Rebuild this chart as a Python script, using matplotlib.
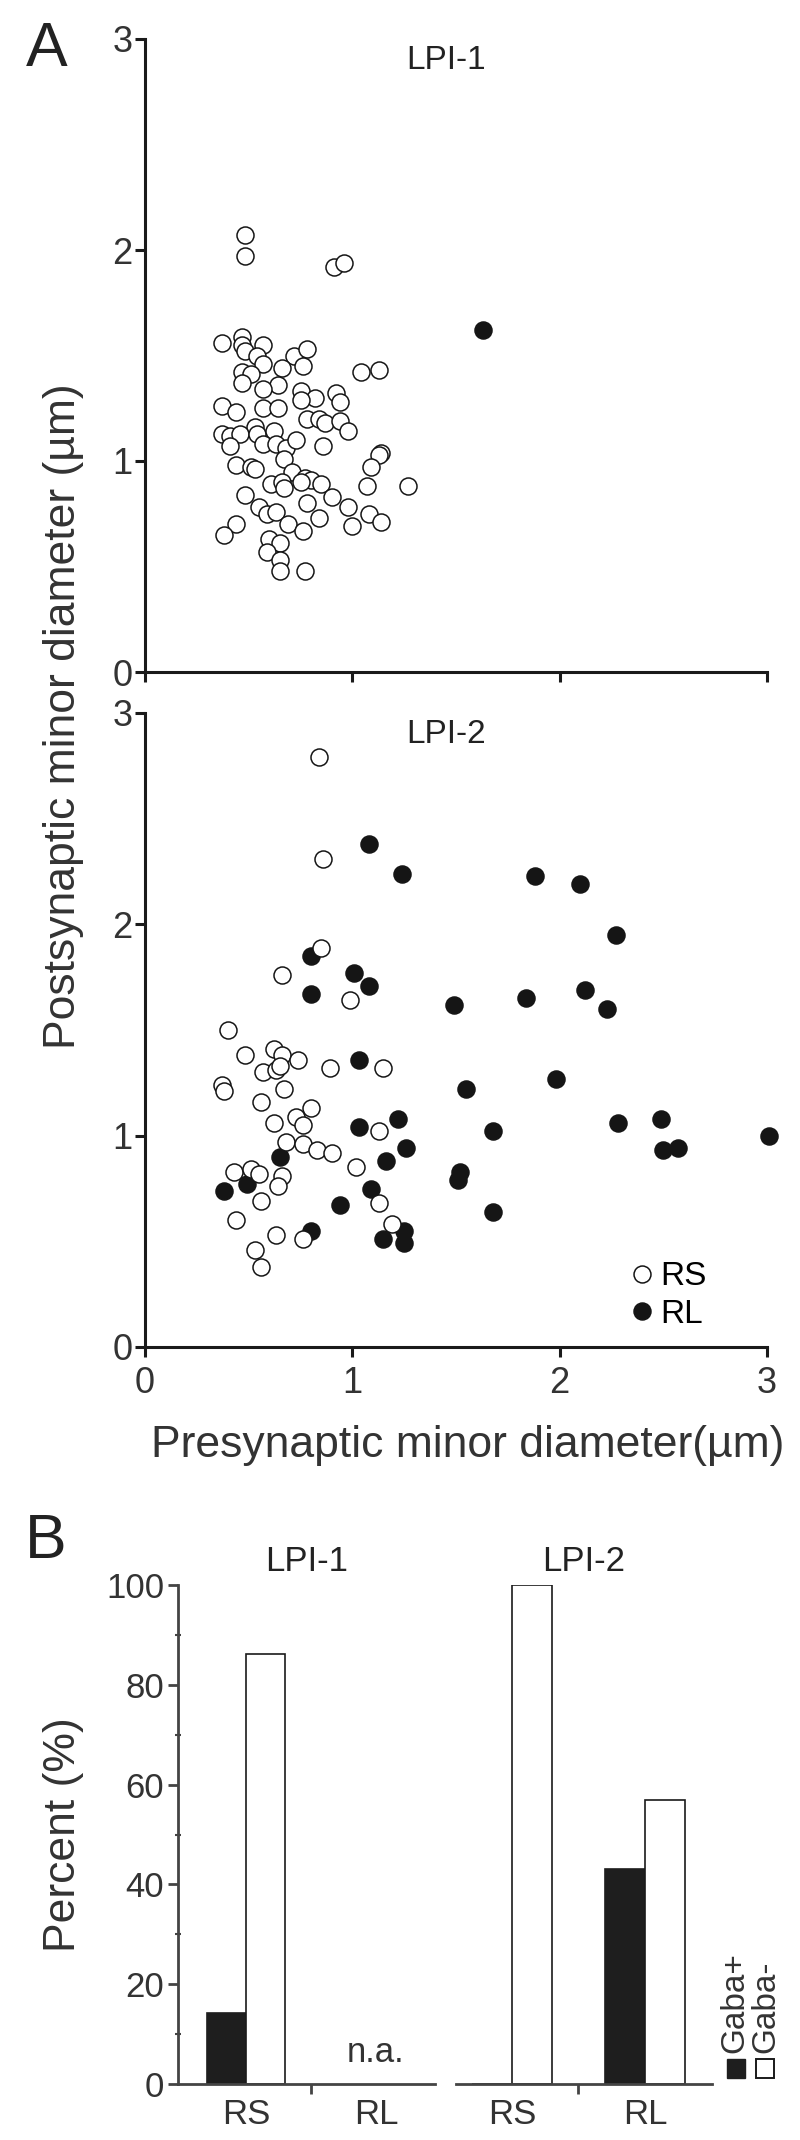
import matplotlib
matplotlib.use('Agg')
import matplotlib.pyplot as plt
import numpy as np
from matplotlib.lines import Line2D
from matplotlib.patches import Rectangle

plt.rcParams['font.family'] = ['Liberation Sans', 'DejaVu Sans']

# ---- data: panel A, LPI-1 ----
lpi1_rs_x = [0.48, 0.48, 0.91, 0.96, 0.37, 0.47, 0.47, 0.57, 0.48, 0.54, 0.72, 0.78, 0.76, 0.57,
             0.66, 1.04, 1.13, 0.47, 0.51, 0.47, 0.64, 0.57, 0.75, 0.92, 0.82, 0.75, 0.94, 0.37,
             0.44, 0.57, 0.64, 0.78, 0.84, 0.87, 0.94, 0.98, 0.53, 0.37, 0.41, 0.46, 0.41, 0.54,
             0.62, 0.57, 0.63, 0.68, 0.73, 0.86, 1.14, 1.13, 1.09, 0.67, 0.44, 0.51, 0.53, 0.71,
             0.77, 0.80, 0.85, 0.61, 0.66, 0.67, 0.75, 1.07, 1.27, 0.90, 0.48, 0.55, 0.78, 0.59,
             0.63, 0.98, 1.08, 1.14, 0.84, 1.00, 0.69, 0.76, 0.44, 0.38, 0.60, 0.65, 0.59, 0.65,
             0.65, 0.77]
lpi1_rs_y = [2.07, 1.97, 1.92, 1.94, 1.56, 1.59, 1.55, 1.55, 1.52, 1.50, 1.50, 1.53, 1.45, 1.46,
             1.44, 1.42, 1.43, 1.42, 1.41, 1.37, 1.36, 1.34, 1.33, 1.32, 1.30, 1.29, 1.28, 1.26,
             1.23, 1.25, 1.25, 1.20, 1.20, 1.18, 1.19, 1.14, 1.16, 1.13, 1.12, 1.13, 1.07, 1.13,
             1.14, 1.08, 1.08, 1.06, 1.10, 1.07, 1.04, 1.03, 0.97, 1.01, 0.98, 0.97, 0.96, 0.95,
             0.92, 0.91, 0.89, 0.89, 0.90, 0.87, 0.90, 0.88, 0.88, 0.83, 0.84, 0.78, 0.80, 0.75,
             0.76, 0.78, 0.75, 0.71, 0.73, 0.69, 0.70, 0.67, 0.70, 0.65, 0.63, 0.61, 0.57, 0.53,
             0.48, 0.48]
lpi1_rl_x = [1.63]
lpi1_rl_y = [1.62]

# ---- data: panel A, LPI-2 ----
lpi2_rs_x = [0.84, 0.86, 0.85, 0.66, 0.99, 0.40, 0.48, 0.62, 0.66, 0.74, 0.57, 0.63, 0.65, 0.89,
             1.15, 0.37, 0.38, 0.67, 0.56, 0.80, 0.73, 0.62, 0.76, 1.13, 0.68, 0.76, 0.83, 0.90,
             1.02, 0.43, 0.51, 0.55, 0.66, 0.64, 0.56, 1.13, 1.19, 0.44, 0.63, 0.76, 0.53, 0.56]
lpi2_rs_y = [2.79, 2.31, 1.89, 1.76, 1.64, 1.50, 1.38, 1.41, 1.38, 1.36, 1.30, 1.31, 1.33, 1.32,
             1.32, 1.24, 1.21, 1.22, 1.16, 1.13, 1.09, 1.06, 1.05, 1.02, 0.97, 0.96, 0.93, 0.92,
             0.85, 0.83, 0.84, 0.82, 0.81, 0.76, 0.69, 0.68, 0.58, 0.60, 0.53, 0.51, 0.46, 0.38]
lpi2_rl_x = [1.08, 1.24, 1.88, 2.10, 2.27, 0.80, 1.01, 1.08, 0.80, 1.49, 1.84, 2.12, 2.23, 1.03,
             1.98, 1.55, 1.22, 2.28, 2.49, 1.03, 1.68, 3.01, 1.26, 2.50, 2.57, 0.65, 1.16, 0.38,
             0.49, 1.52, 1.51, 1.09, 0.94, 1.68, 0.80, 1.25, 1.15, 1.25]
lpi2_rl_y = [2.38, 2.24, 2.23, 2.19, 1.95, 1.85, 1.77, 1.71, 1.67, 1.62, 1.65, 1.69, 1.60, 1.36,
             1.27, 1.22, 1.08, 1.06, 1.08, 1.04, 1.02, 1.00, 0.94, 0.93, 0.94, 0.90, 0.88, 0.74,
             0.77, 0.83, 0.79, 0.75, 0.67, 0.64, 0.55, 0.55, 0.51, 0.49]

# ---- data: panel B ----
categories = ['RS', 'RL']
lpi1_gaba_pos = [14.2]      # RS only, RL n.a.
lpi1_gaba_neg = [86.1]
lpi2_gaba_pos = [0.0, 43.1]
lpi2_gaba_neg = [100.0, 57.0]

W, H = 800, 2140
fig = plt.figure(figsize=(8, 21.4), dpi=100)

def fx(px):
    return px / W

def fy(py):
    return 1 - py / H

ax1 = fig.add_axes([fx(145), fy(672), 622 / W, 633 / H])
ax2 = fig.add_axes([fx(145), fy(1347), 622 / W, 634 / H])

msize = 150
for ax, rsx, rsy, rlx, rly, name in [(ax1, lpi1_rs_x, lpi1_rs_y, lpi1_rl_x, lpi1_rl_y, 'LPI-1'),
                                      (ax2, lpi2_rs_x, lpi2_rs_y, lpi2_rl_x, lpi2_rl_y, 'LPI-2')]:
    ax.scatter(rlx, rly, s=msize, c='#151515', edgecolors='#151515', linewidths=1.1,
               zorder=3, clip_on=False)
    ax.scatter(rsx, rsy, s=msize, c='white', edgecolors='#151515', linewidths=1.1,
               zorder=4, clip_on=False)
    ax.set_xlim(0, 3)
    ax.set_ylim(0, 3)
    ax.set_xticks([0, 1, 2, 3])
    ax.set_yticks([0, 1, 2, 3])
    for s in ['top', 'right']:
        ax.spines[s].set_visible(False)
    for s in ['left', 'bottom']:
        ax.spines[s].set_linewidth(2.2)
        ax.spines[s].set_color('#1a1a1a')
    ax.tick_params(axis='both', width=2.2, length=7, color='#1a1a1a', labelsize=26,
                   labelcolor='#333333')
    ax.tick_params(axis='y', pad=2)
    ax.tick_params(axis='x', pad=7)
    ax.text(1.45, 2.9, name, ha='center', va='center', fontsize=24, color='#222222')

ax1.set_xticklabels([])

handles = [Line2D([], [], marker='o', ls='none', mfc='white', mec='#151515', mew=1.1, ms=12.2),
           Line2D([], [], marker='o', ls='none', mfc='#151515', mec='#151515', mew=1.1, ms=12.2)]
ax2.legend(handles, ['RS', 'RL'], loc='lower right', bbox_to_anchor=(0.94, -0.01),
           frameon=False, fontsize=24, handlelength=0.6, handletextpad=0.25,
           labelspacing=0.2, borderpad=0.2)

fig.text(fx(64), fy(716), 'Postsynaptic minor diameter (µm)', rotation=90,
         ha='center', va='center', fontsize=32, color='#333333')
fig.text(fx(468), fy(1445), 'Presynaptic minor diameter(µm)',
         ha='center', va='center', fontsize=32, color='#333333')
fig.text(fx(47), fy(50), 'A', ha='center', va='center', fontsize=45, color='#222222')
fig.text(fx(46), fy(1542), 'B', ha='center', va='center', fontsize=45, color='#222222')

# ---- panel B ----
axb1 = fig.add_axes([fx(178), fy(2084), 257 / W, 499 / H])
axb2 = fig.add_axes([fx(456), fy(2084), 256 / W, 499 / H])
bw = 0.3
black = '#1e1e1e'

axb1.bar(np.arange(len(lpi1_gaba_pos)) - bw / 2, lpi1_gaba_pos, bw, color=black,
         edgecolor=black, linewidth=1.2)
axb1.bar(np.arange(len(lpi1_gaba_neg)) + bw / 2, lpi1_gaba_neg, bw, color='white',
         edgecolor='#1a1a1a', linewidth=1.2)
axb1.text(1, 3, 'n.a.', ha='center', va='bottom', fontsize=25, color='#333333')
axb1.set_xlim(-0.523, 1.454)

x2 = np.arange(len(categories))
axb2.bar(x2 - bw / 2, lpi2_gaba_pos, bw, color=black, edgecolor=black, linewidth=1.2)
axb2.bar(x2 + bw / 2, lpi2_gaba_neg, bw, color='white', edgecolor='#1a1a1a', linewidth=1.2)
axb2.set_xlim(-0.421, 1.504)

for ax, name in [(axb1, 'LPI-1'), (axb2, 'LPI-2')]:
    ax.set_ylim(0, 100)
    for s in ['top', 'right']:
        ax.spines[s].set_visible(False)
    for s in ['left', 'bottom']:
        ax.spines[s].set_linewidth(2.0)
        ax.spines[s].set_color('#444444')
    ax.set_xticks([0.5])
    ax.set_xticklabels([])
    ax.set_xticks([0, 1], minor=True)
    ax.set_xticklabels(categories, minor=True)
    ax.tick_params(axis='x', which='major', width=2.0, length=7, color='#444444')
    ax.tick_params(axis='x', which='minor', length=0, pad=10, labelsize=25,
                   labelcolor='#333333')
    ax.set_title(name, fontsize=25, color='#222222', pad=10)

axb1.set_yticks([0, 20, 40, 60, 80, 100])
axb1.set_yticks(np.arange(10, 100, 20), minor=True)
axb1.tick_params(axis='y', which='major', width=2.0, length=7, color='#444444', pad=3,
                 labelsize=25, labelcolor='#333333')
axb1.tick_params(axis='y', which='minor', width=1.5, length=4, direction='inout',
                 color='#444444')
axb2.spines['left'].set_visible(False)
axb2.set_yticks([])

fig.text(fx(64), fy(1835), 'Percent (%)', rotation=90, ha='center', va='center',
         fontsize=32, color='#333333')

# legend for panel B (rotated)
fig.add_artist(Rectangle((fx(727), fy(2078)), 18 / W, 19 / H, transform=fig.transFigure,
                         facecolor=black, edgecolor=black, linewidth=1.0))
fig.add_artist(Rectangle((fx(756), fy(2078)), 18 / W, 19 / H, transform=fig.transFigure,
                         facecolor='white', edgecolor='#1a1a1a', linewidth=1.4))
fig.text(fx(735), fy(2053), 'Gaba+', rotation=90, ha='center', va='bottom', fontsize=24,
         color='#333333')
fig.text(fx(766), fy(2053), 'Gaba-', rotation=90, ha='center', va='bottom', fontsize=24,
         color='#333333')

fig.savefig('out.png', dpi=100)
